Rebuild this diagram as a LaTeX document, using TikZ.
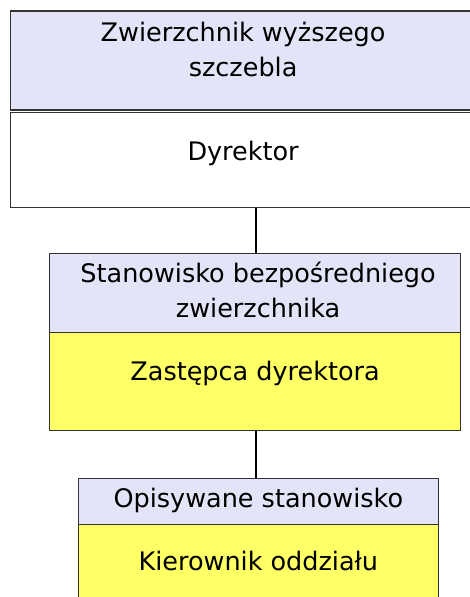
\documentclass[tikz,border=0pt]{standalone}
\usepackage{fontspec}
\setmainfont{DejaVu Sans}
\usetikzlibrary{positioning}

\definecolor{lavender}{HTML}{E4E4F9}
\definecolor{paleyellow}{HTML}{FFFF66}
\definecolor{frame}{HTML}{333333}

\begin{document}
\begin{tikzpicture}[x=1pt, y=1pt,
  box/.style={draw=frame, line width=1.2pt, rectangle, inner sep=0pt, anchor=north west},
  header/.style={box, fill=lavender},
  holder/.style={box, fill=paleyellow},
  caption/.style={font=\fontsize{25.5}{35}\selectfont, align=center, anchor=base, inner sep=0pt}]

\clip (0,0) rectangle (470,597);

%top level
\node[header, minimum width=466pt, minimum height=99pt] (superior) at (9.5,586.5) {};
\node[box, fill=white, minimum width=466pt, minimum height=95pt] (director) at (9.5,485) {};

%middle level
\node[header, minimum width=411pt, minimum height=79pt] (direct) at (49,344) {};
\node[holder, minimum width=411pt, minimum height=98pt] (deputy) at (49,265) {};

%bottom level
\node[header, minimum width=359.5pt, minimum height=46pt] (described) at (78,119) {};
\node[holder, minimum width=359.5pt, minimum height=80pt] (head) at (78,73) {};

%captions
\node[caption] (superiorTxt) at ([yshift=-66.5pt]superior.north) {Zwierzchnik wyższego\\szczebla};
\node[caption] (directorTxt) at ([yshift=-49pt]director.north) {Dyrektor};
\node[caption] (directTxt) at ([xshift=3pt, yshift=-65pt]direct.north) {Stanowisko bezpośredniego\\zwierzchnika};
\node[caption] (deputyTxt) at ([yshift=-49pt]deputy.north) {Zastępca dyrektora};
\node[caption] (describedTxt) at ([yshift=-30pt]described.north) {Opisywane stanowisko};
\node[caption] (headTxt) at ([yshift=-47pt]head.north) {Kierownik oddziału};

%links
\coordinate (spine) at (256,0);
\draw[line width=1.4pt] (director.south -| spine) -- (direct.north -| spine);
\draw[line width=1.4pt] (deputy.south -| spine) -- (described.north -| spine);

\end{tikzpicture}
\end{document}
